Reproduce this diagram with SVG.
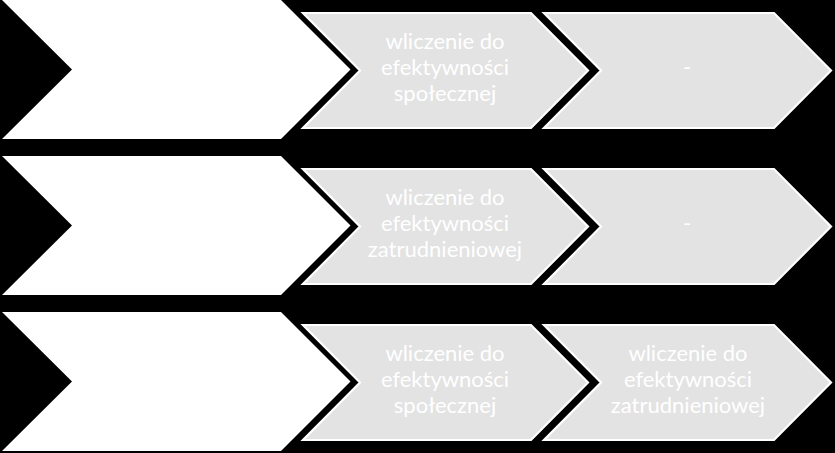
<svg xmlns="http://www.w3.org/2000/svg" width="835" height="453" viewBox="0 0 835 453">
<style>
.w{fill:#ffffff}
.g{fill:#e3e3e3;stroke:#ffffff;stroke-width:2.2;stroke-linejoin:miter}
.t{font-family:Lato,"Liberation Sans",sans-serif;font-size:22px;fill:#ffffff;text-anchor:middle}
</style>
<defs>
<polygon id="wc" points="2,0 281,0 350.5,69.5 281,139 2,139 72,69.5"/>
<polygon id="g1" points="303,13 531,13 588,70.5 531,128 303,128 360,70.5"/>
<polygon id="g2" points="544,13 774,13 831,70.5 774,128 544,128 601,70.5"/>
</defs>
<rect x="0" y="0" width="835" height="453" fill="#000000"/>
<g id="row1">
<g id="r1-head"><use href="#wc" class="w"/></g>
<g id="r1-a"><use href="#g1" class="g"/><text class="t" x="445"><tspan x="445" y="49">wliczenie do</tspan><tspan x="445" y="75">efektywności</tspan><tspan x="445" y="101">społecznej</tspan></text></g>
<g id="r1-b"><use href="#g2" class="g"/><text class="t" x="687" y="75">-</text></g>
</g>
<g id="row2" transform="translate(0,156)">
<g id="r2-head"><use href="#wc" class="w"/></g>
<g id="r2-a"><use href="#g1" class="g"/><text class="t" x="445"><tspan x="445" y="49">wliczenie do</tspan><tspan x="445" y="75">efektywności</tspan><tspan x="445" y="101">zatrudnieniowej</tspan></text></g>
<g id="r2-b"><use href="#g2" class="g"/><text class="t" x="687" y="75">-</text></g>
</g>
<g id="row3" transform="translate(0,312)">
<g id="r3-head"><use href="#wc" class="w"/></g>
<g id="r3-a"><use href="#g1" class="g"/><text class="t" x="445"><tspan x="445" y="49">wliczenie do</tspan><tspan x="445" y="75">efektywności</tspan><tspan x="445" y="101">społecznej</tspan></text></g>
<g id="r3-b"><use href="#g2" class="g"/><text class="t" x="688"><tspan x="688" y="49">wliczenie do</tspan><tspan x="688" y="75">efektywności</tspan><tspan x="688" y="101">zatrudnieniowej</tspan></text></g>
</g>
</svg>
